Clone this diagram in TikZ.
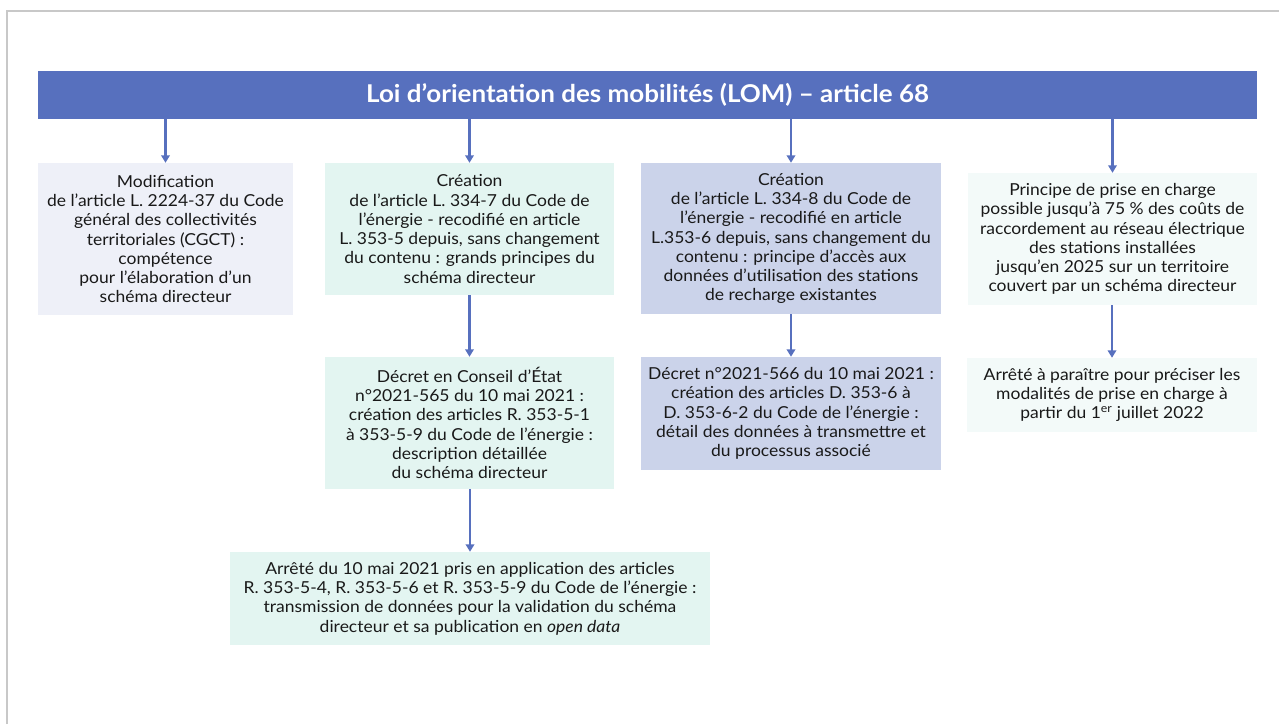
\documentclass[tikz,border=0pt]{standalone}
\usepackage{fontspec}
\setmainfont{Lato}[FakeStretch=1.06]
\usetikzlibrary{arrows.meta}
\definecolor{lomblue}{RGB}{87,112,190}
\definecolor{paleblue}{RGB}{238,240,248}
\definecolor{mint}{RGB}{227,245,241}
\definecolor{lavender}{RGB}{203,211,234}
\definecolor{palemint}{RGB}{243,250,249}
\definecolor{framegray}{RGB}{200,200,200}

\begin{document}
\begin{tikzpicture}[x=1pt,y=-1pt,
    box/.style={inner sep=0pt, align=center, text=black!90,
      font=\fontsize{16.5}{19.3}\selectfont},
    link/.style={lomblue, line width=2.4pt, -{Triangle[width=8.5pt,length=7.5pt]}}]
    \useasboundingbox (0,0) rectangle (1279,724);
    % Frame (left and top edges only)
    \draw[framegray, line width=2pt] (7,724) -- (7,11) -- (1279,11);

    % Header: the law
    \node[fill=lomblue, minimum width=1219pt, minimum height=48pt, inner sep=0pt,
      text=white, font=\fontsize{24.5}{28}\selectfont\bfseries] (lom) at (647.5,95)
      {Loi d’orientation des mobilités (LOM) – article 68};

    % First row
    \node[box, fill=paleblue, minimum width=255pt, minimum height=152pt] (modif) at (165.5,239)
      {Modification\\de l’article L. 2224-37 du Code\\général des collectivités\\territoriales (CGCT) :\\compétence\\pour l’élaboration d’un\\schéma directeur};
    \node[box, fill=mint, minimum width=289pt, minimum height=132pt] (art3347) at (469.5,229)
      {Création\\de l’article L. 334-7 du Code de\\l’énergie - recodifié en article\\L. 353-5 depuis, sans changement\\du contenu : grands principes du\\schéma directeur};
    \node[box, fill=lavender, minimum width=300pt, minimum height=151pt] (art3348) at (791,238.5)
      {Création\\de l’article L. 334-8 du Code de\\l’énergie - recodifié en article\\L.353-6 depuis, sans changement du\\contenu : principe d’accès aux\\données d’utilisation des stations\\de recharge existantes};
    \node[box, fill=palemint, minimum width=289pt, minimum height=132pt] (prise) at (1112.5,239)
      {Principe de prise en charge\\possible jusqu’à 75 \% des coûts de\\raccordement au réseau électrique\\des stations installées\\jusqu’en 2025 sur un territoire\\couvert par un schéma directeur};

    % Second row: decrees
    \node[box, fill=mint, minimum width=289pt, minimum height=132pt] (decret565) at (469.5,423)
      {Décret en Conseil d’État\\n°2021-565 du 10 mai 2021 :\\création des articles R. 353-5-1\\à 353-5-9 du Code de l’énergie :\\description détaillée\\du schéma directeur};
    \node[box, fill=lavender, minimum width=300pt, minimum height=113pt] (decret566) at (791,413.5)
      {Décret n°2021-566 du 10 mai 2021 :\\création des articles D. 353-6 à\\D. 353-6-2 du Code de l’énergie :\\détail des données à transmettre et\\du processus associé};
    \node[box, fill=palemint, minimum width=290pt, minimum height=74pt] (arrete2022) at (1112,395)
      {Arrêté à paraître pour préciser les\\modalités de prise en charge à\\partir du 1\textsuperscript{er} juillet 2022};

    % Third row
    \node[box, fill=mint, minimum width=480pt, minimum height=93pt] (arrete2021) at (470,598.5)
      {Arrêté du 10 mai 2021 pris en application des articles\\R. 353-5-4, R. 353-5-6 et R. 353-5-9 du Code de l’énergie :\\transmission de données pour la validation du schéma\\directeur et sa publication en \textit{open data}};

    % Arrows
    \foreach \from/\to in {lom/modif, lom/art3347, lom/art3348, lom/prise,
        art3347/decret565, art3348/decret566, prise/arrete2022, decret565/arrete2021} {
      \draw[link] (\to.north |- \from.south) -- (\to.north);
    }
\end{tikzpicture}
\end{document}
